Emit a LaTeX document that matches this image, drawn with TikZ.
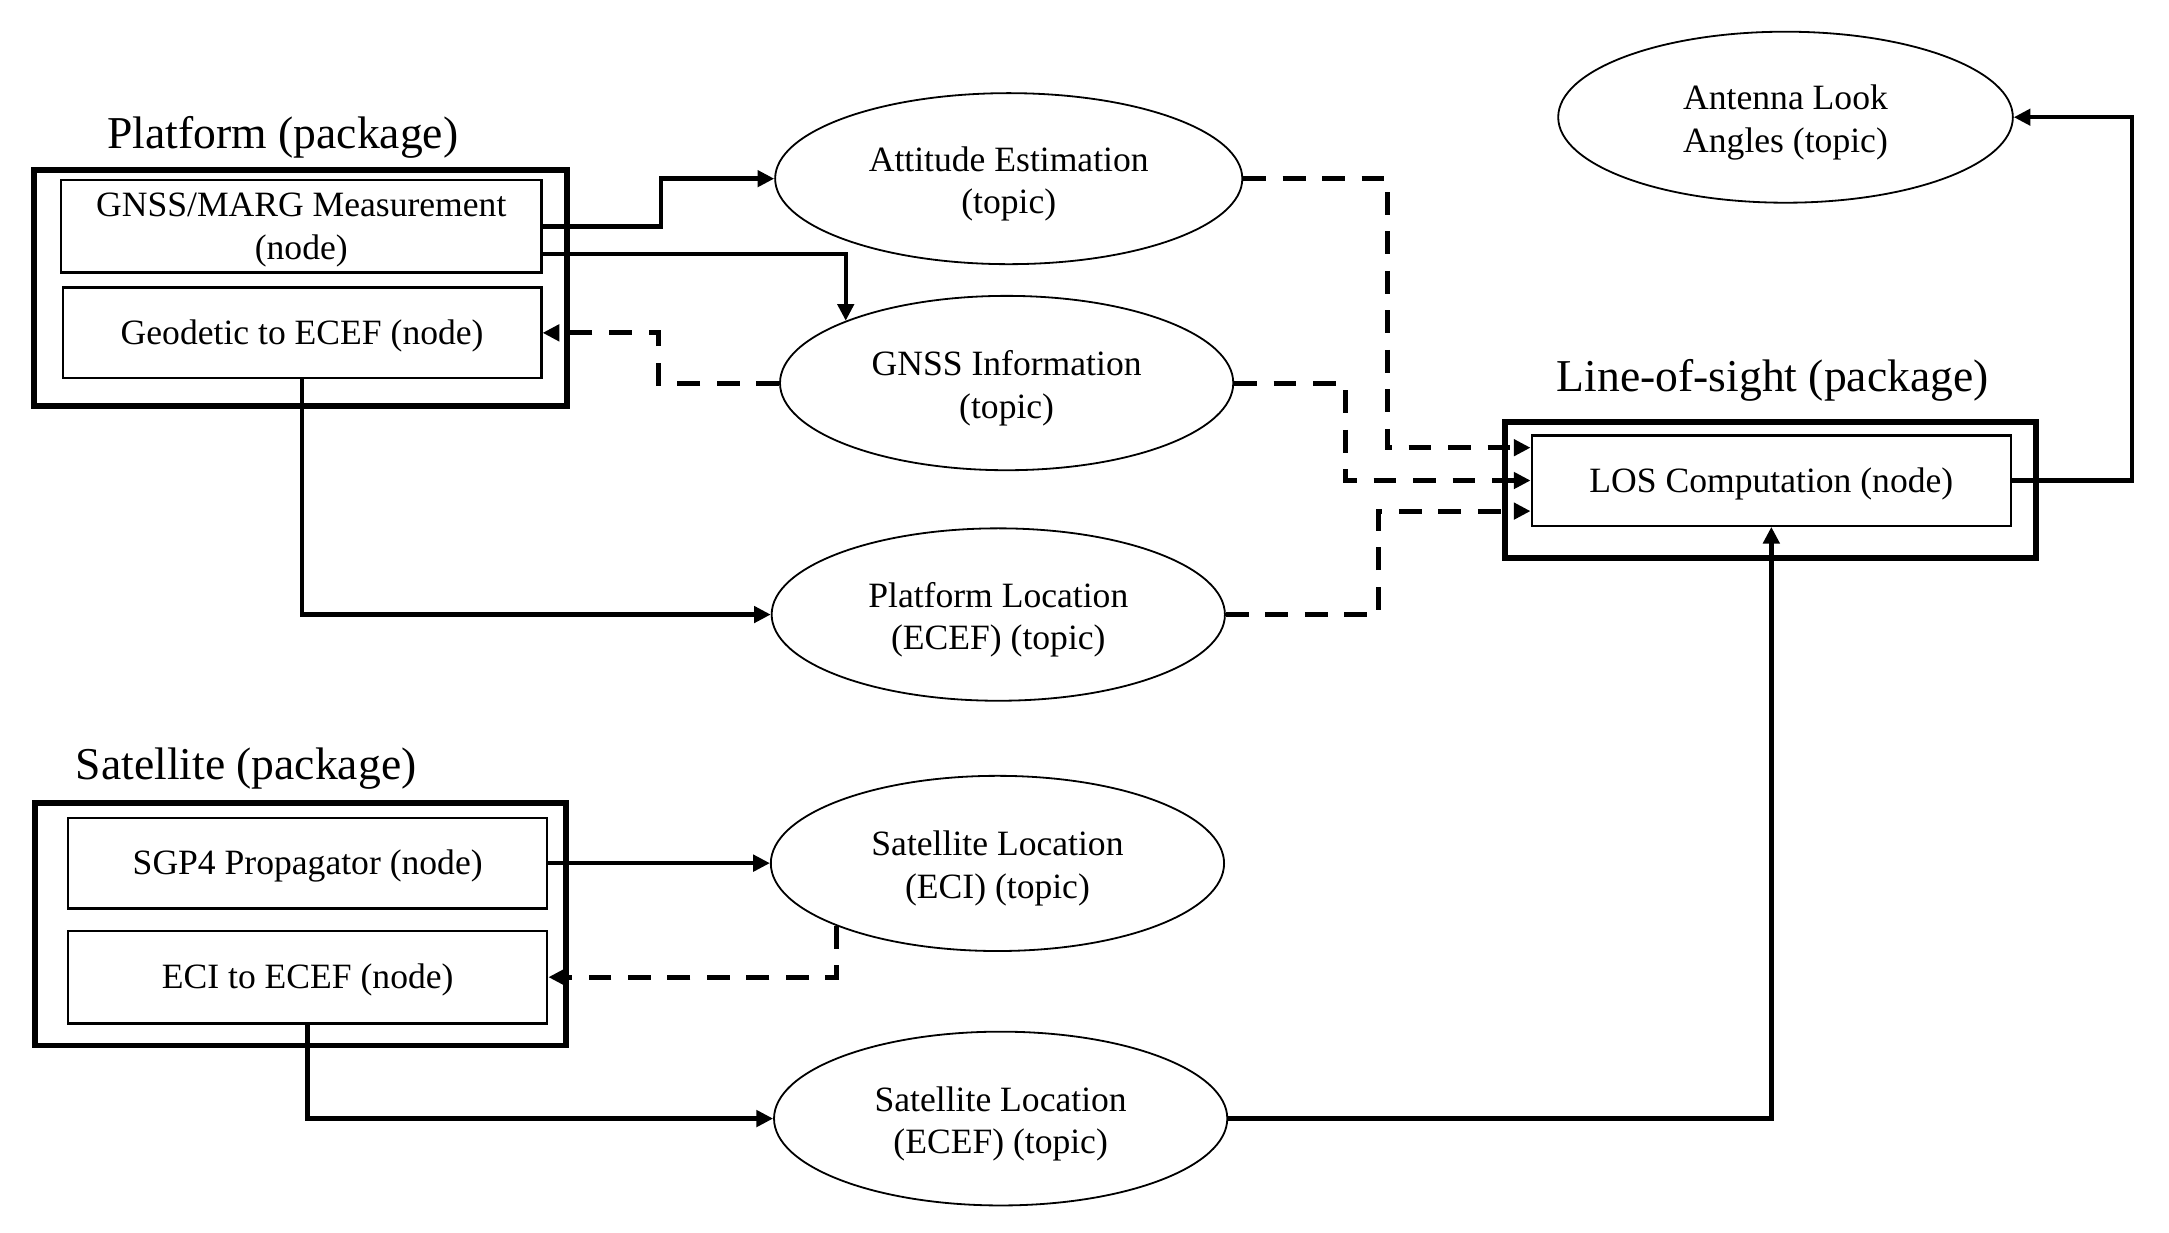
\documentclass[tikz,border=0pt]{standalone}
\usepackage{fontspec}
\setmainfont{Liberation Serif}
\usetikzlibrary{shapes.geometric,arrows.meta,calc}
\newcommand\topicstrut{\rule{0pt}{12.7pt}}
\newcommand\boxstrut{\rule{0pt}{11.2pt}}
\begin{document}
\begin{tikzpicture}[x=0.5pt,y=-0.5pt,
  every node/.style={font=\fontsize{12.8pt}{15.4pt}\selectfont, align=center},
  pkgbox/.style={draw, line width=2.1pt, inner sep=0pt},
  modbox/.style={draw, line width=0.85pt, inner sep=0pt},
  topic/.style={draw, ellipse, line width=0.65pt, inner sep=0pt, minimum width=163pt, minimum height=62pt},
  ttl/.style={font=\fontsize{16.4pt}{19pt}\selectfont},
  conn/.style={line width=1.6pt, -{Triangle[length=6pt,width=5.8pt]}},
  dconn/.style={conn, line width=1.8pt, dash pattern=on 8.2pt off 6pt},
]
\useasboundingbox[fill=white] (0,0) rectangle (1560,886.8);

% packages
\node[pkgbox, minimum width=191.5pt, minimum height=84.75pt] (plat) at (216.2,207.2) {};
\node[ttl] (platT) at (203.5,99) {Platform (package)};
\node[modbox, minimum width=172.7pt, minimum height=33.2pt] (gnss) at (216.7,162.8) {\boxstrut GNSS/MARG Measurement\\(node)};
\node[modbox, minimum width=172.1pt, minimum height=32.7pt] (geod) at (217.3,239.4) {\boxstrut Geodetic to ECEF (node)};

\node[pkgbox, minimum width=191pt, minimum height=87.2pt] (sat) at (216,664.8) {};
\node[ttl] (satT) at (177,553) {Satellite (package)};
\node[modbox, minimum width=172.3pt, minimum height=32.7pt] (sgp) at (221.3,620.8) {\boxstrut SGP4 Propagator (node)};
\node[modbox, minimum width=172.3pt, minimum height=33.2pt] (eci) at (221.3,702.8) {\boxstrut ECI to ECEF (node)};

\node[pkgbox, minimum width=190.8pt, minimum height=48.85pt] (losp) at (1273.5,352.2) {};
\node[ttl] (losT) at (1275,273.5) {Line-of-sight (package)};
\node[modbox, minimum width=172.35pt, minimum height=32.5pt] (los) at (1274,345.6) {\boxstrut LOS Computation (node)};

% topics
\node[topic, minimum width=168pt, minimum height=61.5pt] (att) at (725.5,128.5) {\topicstrut Attitude Estimation\\(topic)};
\node[topic, minimum height=62.7pt] (ginfo) at (724,275.5) {\topicstrut GNSS Information\\(topic)};
\node[topic] (ploc) at (718,442) {\topicstrut Platform Location\\(ECEF) (topic)};
\node[topic, minimum height=63pt] (seci) at (717.4,621) {\topicstrut Satellite Location\\(ECI) (topic)};
\node[topic, minimum height=62.5pt] (secef) at (719.7,804.5) {\topicstrut Satellite Location\\(ECEF) (topic)};
\node[topic, minimum width=163.5pt, minimum height=61.5pt] (ant) at (1284.2,84.3) {\topicstrut Antenna Look\\Angles (topic)};

% connectors
\draw[conn] (gnss.east) -- ++(42.5pt,0pt) |- (att.west);
\draw[conn] ([yshift=-10pt]gnss.east) -| (ginfo.north west);
\draw[dconn] (ginfo.west) -- ++(-43.5pt,0pt) |- (geod.east);
\draw[conn] (geod.south) |- (ploc.west);
\draw[conn] (sgp.east) -- (sgp.east -| seci.west);
\draw[dconn] (seci.south west) |- (eci.east);
\draw[conn] (eci.south) |- (secef.west);
\draw[conn] (secef.east) -| (los.south);
\draw[conn] (los.east) -- ++(43pt,0pt) |- (ant.east);
\draw[dconn] (att.east) -- ++(52pt,0pt) |- ([yshift=11.8pt]los.west);
\draw[dconn] (ginfo.east) -- ++(40pt,0pt) |- (los.west);
\draw[dconn] (ploc.east) -- ++(55pt,0pt) |- ([yshift=-11pt]los.west);
\end{tikzpicture}
\end{document}
